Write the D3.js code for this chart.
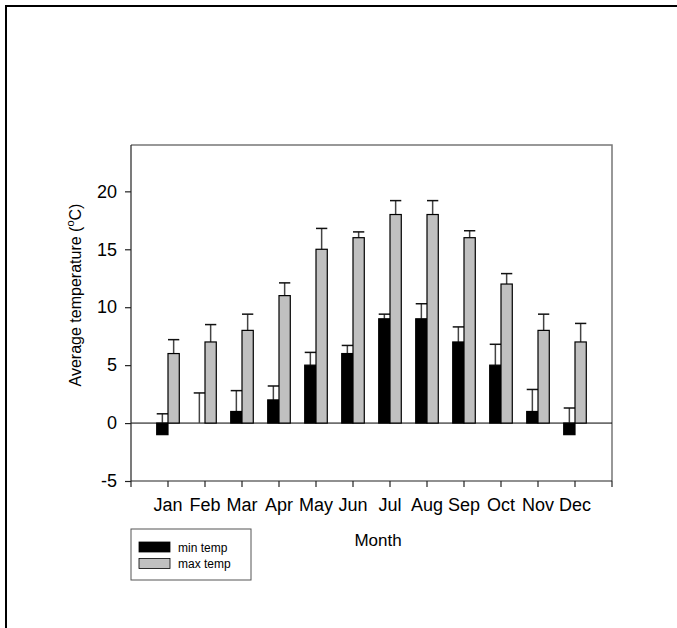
<!DOCTYPE html>
<html>
<head>
<meta charset="utf-8">
<script src="https://cdn.jsdelivr.net/npm/d3@7"></script>
<style>
  body { margin: 0; background: #fff; }
  text { font-family: "Liberation Sans", Arial, sans-serif; }
</style>
</head>
<body>
<script>
var months = ["Jan", "Feb", "Mar", "Apr", "May", "Jun", "Jul", "Aug", "Sep", "Oct", "Nov", "Dec"];
var minTemp = [-1, 0, 1, 2, 5, 6, 9, 9, 7, 5, 1, -1];
var minErr = [1.8, 2.6, 1.8, 1.2, 1.1, 0.7, 0.4, 1.3, 1.3, 1.8, 1.9, 2.3];
var maxTemp = [6, 7, 8, 11, 15, 16, 18, 18, 16, 12, 8, 7];
var maxErr = [1.2, 1.5, 1.4, 1.1, 1.8, 0.5, 1.2, 1.2, 0.6, 0.9, 1.4, 1.6];
var yTicks = [-5, 0, 5, 10, 15, 20];
var seriesNames = ["min temp", "max temp"];
var seriesColors = ["#000000", "#c0c0c0"];

var width = 677, height = 628;
// plot box (window.top is reserved, so use pl/pr/pt/pb)
var pl = 131, pr = 612, pt = 145, pb = 481;
var step = (pr - pl) / 13;

var svg = d3.select("body").append("svg")
  .attr("width", width)
  .attr("height", height);

// outer frame (only top and left show)
svg.append("path")
  .attr("d", "M6," + height + "V6H" + width)
  .attr("fill", "none")
  .attr("stroke", "#000")
  .attr("stroke-width", 2);

var x = d3.scaleBand()
  .domain(months)
  .range([pl + step / 2, pr - step / 2])
  .padding(0);

var xSub = d3.scaleBand()
  .domain(seriesNames)
  .range([0, x.bandwidth()])
  .paddingInner(0)
  .paddingOuter(0.64);

var y = d3.scaleLinear()
  .domain([-5, 24])
  .range([pb, pt]);

// plot frame top/right
svg.append("path")
  .attr("d", "M" + pl + "," + pt + "H" + pr + "V" + pb)
  .attr("fill", "none")
  .attr("stroke", "#777")
  .attr("stroke-width", 1.5);

// zero line
svg.append("line")
  .attr("x1", pl).attr("x2", pr)
  .attr("y1", y(0)).attr("y2", y(0))
  .attr("stroke", "#000")
  .attr("stroke-width", 1);

var flat = [];
months.forEach(function(m, i) {
  flat.push({ month: m, s: seriesNames[0], v: minTemp[i], e: minErr[i], c: seriesColors[0] });
  flat.push({ month: m, s: seriesNames[1], v: maxTemp[i], e: maxErr[i], c: seriesColors[1] });
});

var groups = svg.append("g");

// error bars first, bars drawn over whisker base
var err = groups.selectAll("g.err")
  .data(flat)
  .enter().append("g");

err.append("line")
  .attr("x1", function(d) { return x(d.month) + xSub(d.s) + xSub.bandwidth() / 2; })
  .attr("x2", function(d) { return x(d.month) + xSub(d.s) + xSub.bandwidth() / 2; })
  .attr("y1", function(d) { return y(Math.max(d.v, 0)); })
  .attr("y2", function(d) { return y(d.v + d.e); })
  .attr("stroke", "#444")
  .attr("stroke-width", 1.5);

err.append("line")
  .attr("x1", function(d) { return x(d.month) + xSub(d.s); })
  .attr("x2", function(d) { return x(d.month) + xSub(d.s) + xSub.bandwidth(); })
  .attr("y1", function(d) { return y(d.v + d.e); })
  .attr("y2", function(d) { return y(d.v + d.e); })
  .attr("stroke", "#111")
  .attr("stroke-width", 1.5);

groups.selectAll("rect")
  .data(flat.filter(function(d) { return d.v !== 0; }))
  .enter().append("rect")
  .attr("x", function(d) { return x(d.month) + xSub(d.s); })
  .attr("y", function(d) { return y(Math.max(d.v, 0)); })
  .attr("width", xSub.bandwidth())
  .attr("height", function(d) { return Math.abs(y(d.v) - y(0)); })
  .attr("fill", function(d) { return d.c; })
  .attr("stroke", "#000")
  .attr("stroke-width", 1.2);

// y axis (plain hyphen for negatives, like the original)
var yAxis = svg.append("g")
  .attr("transform", "translate(" + pl + ",0)")
  .call(d3.axisLeft(y).tickValues(yTicks).tickSize(6).tickSizeOuter(0).tickPadding(8)
    .tickFormat(function(d) { return String(d); }));
yAxis.select(".domain").attr("stroke", "#222").attr("stroke-width", 1.2)
  .attr("d", "M0," + pt + "V" + (pb + 6));
yAxis.selectAll(".tick line").attr("stroke", "#222").attr("stroke-width", 1.2);
yAxis.selectAll("text").attr("font-size", 18).attr("fill", "#000")
  .style("font-family", "'Liberation Sans', Arial, sans-serif");

// x axis
var xAxis = svg.append("g")
  .attr("transform", "translate(0," + pb + ")")
  .call(d3.axisBottom(x).tickSize(6).tickSizeOuter(0).tickPadding(11));
xAxis.select(".domain").attr("stroke", "#222").attr("stroke-width", 1.2)
  .attr("d", "M" + pl + ",0H" + pr);
xAxis.selectAll(".tick line").attr("stroke", "#222").attr("stroke-width", 1.2);
xAxis.selectAll("text").attr("font-size", 18).attr("fill", "#000")
  .style("font-family", "'Liberation Sans', Arial, sans-serif");
xAxis.append("line")
  .attr("x1", pr).attr("x2", pr)
  .attr("y1", 0).attr("y2", 6)
  .attr("stroke", "#222").attr("stroke-width", 1.2);

// axis titles
var yTitle = svg.append("text")
  .attr("transform", "translate(81,295) rotate(-90)")
  .attr("text-anchor", "middle")
  .attr("font-size", 16);
yTitle.append("tspan").text("Average temperature (");
yTitle.append("tspan").attr("font-size", 11).attr("dy", -7).text("o");
yTitle.append("tspan").attr("dy", 7).text("C)");

svg.append("text")
  .attr("x", 378)
  .attr("y", 546)
  .attr("text-anchor", "middle")
  .attr("font-size", 17)
  .text("Month");

// legend
var legend = svg.append("g").attr("transform", "translate(131,529)");
legend.append("rect")
  .attr("width", 120).attr("height", 51)
  .attr("fill", "#fff")
  .attr("stroke", "#555")
  .attr("stroke-width", 1);

var li = legend.selectAll("g.item")
  .data(seriesNames)
  .enter().append("g")
  .attr("transform", function(d, i) { return "translate(8," + (13 + i * 16.5) + ")"; });
li.append("rect")
  .attr("width", 31).attr("height", 10)
  .attr("fill", function(d, i) { return seriesColors[i]; })
  .attr("stroke", "#000")
  .attr("stroke-width", 0.8);
li.append("text")
  .attr("x", 39)
  .attr("y", 9.5)
  .attr("font-size", 12)
  .text(function(d) { return d; });
</script>
</body>
</html>
